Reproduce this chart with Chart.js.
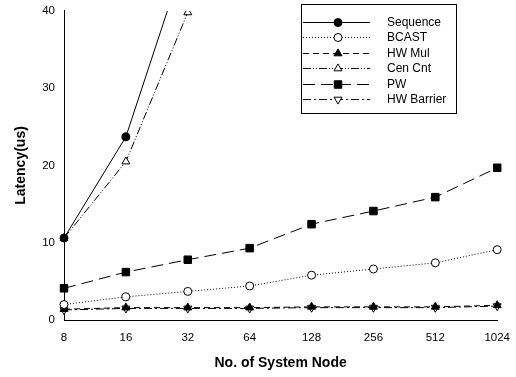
<!DOCTYPE html>
<html>
<head>
<meta charset="utf-8">
<script src="https://cdn.jsdelivr.net/npm/chart.js@4/dist/chart.umd.min.js"></script>
<style>
  html, body { margin:0; padding:0; background:#fff; }
  #wrap { width:516px; height:377px; }
</style>
</head>
<body>
<div id="wrap"><canvas id="chart" width="516" height="377"></canvas></div>
<script>
// nós do sistema (eixo x)
const nodes = ['8', '16', '32', '64', '128', '256', '512', '1024'];

// latência (us) por esquema
const sequence  = [10.6, 23.7, 48.0, null, null, null, null, null];
const bcast     = [2.0, 3.0, 3.7, 4.4, 5.8, 6.6, 7.4, 9.1];
const hwMul     = [1.4, 1.6, 1.6, 1.6, 1.7, 1.7, 1.7, 1.9];
const cenCnt    = [10.6, 20.5, 39.8, null, null, null, null, null];
const pw        = [4.1, 6.2, 7.8, 9.3, 12.4, 14.1, 15.9, 19.7];
const hwBarrier = [1.3, 1.5, 1.5, 1.5, 1.6, 1.6, 1.6, 1.8];

const yTicks = [0, 10, 20, 30, 40];

const FONT = '"Liberation Sans", Arial, sans-serif';

function ds(label, data, dash, style, filled, radius, rotation){
    return {
        label: label, data: data,
        borderColor: '#000', borderWidth: 1, borderDash: dash,
        pointStyle: style, pointRadius: radius, pointRotation: rotation || 0,
        pointBackgroundColor: filled ? '#000' : '#fff',
        pointBorderColor: '#000', pointBorderWidth: 1,
        fill: false, tension: 0, spanGaps: false,
        clip: {left: 10, right: 10, top: 0, bottom: 10}
    };
}

const datasets = [
    ds('Sequence', sequence, [], 'circle', true, 4),
    ds('BCAST', bcast, [1, 2], 'circle', false, 4),
    ds('HW Mul', hwMul, [6, 4], 'triangle', true, 4.6),
    ds('Cen Cnt', cenCnt, [8, 2, 1, 2, 1, 2], 'triangle', false, 4.6),
    ds('PW', pw, [12, 6], 'rect', true, 5.3),
    ds('HW Barrier', hwBarrier, [8, 3, 2, 3], 'triangle', false, 4.6, 180)
];

// legenda desenhada à mão (caixa dentro do gráfico)
const boxLegend = {
    id: 'boxLegend',
    afterDraw(chart){
        const ctx = chart.ctx;
        ctx.save();
        ctx.strokeStyle = '#000';
        ctx.lineWidth = 1;
        ctx.strokeRect(301.5, 4.5, 155, 109);
        ctx.font = '12px ' + FONT;
        ctx.textBaseline = 'middle';
        ctx.fillStyle = '#000';
        chart.data.datasets.forEach((d, i) => {
            const y = Math.round(22 + i * 15.4) + 0.5;
            ctx.beginPath();
            ctx.setLineDash(d.borderDash);
            ctx.moveTo(303, y);
            ctx.lineTo(370, y);
            ctx.stroke();
            ctx.setLineDash([]);
            ctx.fillStyle = d.pointBackgroundColor;
            Chart.helpers.drawPoint(ctx, {
                pointStyle: d.pointStyle, radius: d.pointRadius,
                rotation: d.pointRotation, borderWidth: 1
            }, 338, y);
            ctx.fillStyle = '#000';
            ctx.fillText(d.label, 387, y);
        });
        ctx.restore();
    }
};

new Chart(document.getElementById('chart'), {
    type: 'line',
    data: { labels: nodes, datasets: datasets },
    options: {
        responsive: false,
        animation: false,
        layout: { padding: { top: 9, right: 17, left: 0, bottom: 0 } },
        plugins: { legend: { display: false }, tooltip: { enabled: false } },
        scales: {
            x: {
                offset: false,
                grid: { display: false, drawTicks: true, tickLength: 5, tickColor: '#000' },
                border: { color: '#000', width: 1 },
                ticks: { color: '#000', font: { family: FONT, size: 11.5 }, padding: 6, maxRotation: 0 },
                title: { display: true, text: 'No. of System Node', color: '#000',
                         font: { family: FONT, size: 14, weight: 'bold' }, padding: { top: 8, bottom: 5 } },
                afterFit(scale){ scale.height = 57; }
            },
            y: {
                min: 0, max: 40,
                afterBuildTicks(scale){ scale.ticks = yTicks.map(v => ({ value: v })); },
                grid: { display: false, drawTicks: true, tickLength: 5, tickColor: '#000' },
                border: { color: '#000', width: 1 },
                ticks: { color: '#000', font: { family: FONT, size: 11.5 }, padding: 4 },
                title: { display: true, text: 'Latency(us)', color: '#000',
                         font: { family: FONT, size: 14, weight: 'bold' }, padding: { top: 13, bottom: 4 } },
                afterFit(scale){ scale.width = 64; }
            }
        }
    },
    plugins: [boxLegend]
});
</script>
</body>
</html>
